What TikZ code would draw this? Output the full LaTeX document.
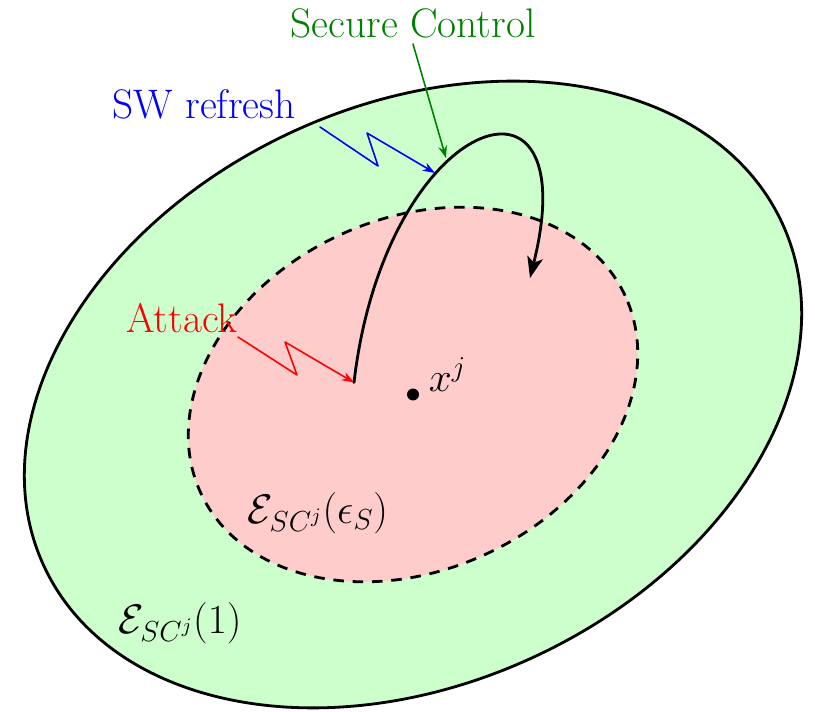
\RequirePackage{fix-cm}
\documentclass[tikz,border=0pt]{standalone}
\usepackage{fontspec}
\usepackage{amsmath}
\usepackage{tikz}
\usetikzlibrary{calc,arrows.meta}

\begin{document}
\begin{tikzpicture}[>=Stealth, line cap=round, line join=round,
  font=\fontsize{23.5}{28}\selectfont,
  setline/.style={line width=1.6pt},
  bolt/.style={->, line width=0.9pt, >={Stealth[length=7pt,width=5pt]}}]

  \useasboundingbox (0,0) rectangle (16.3,14.22);

  % ===== Parameters =====
  \coordinate (C) at (8.26,6.33);
  \def\tilt{25}

  % ===== Ellipsoidal sets =====
  \draw[setline, fill=green!20, rotate around={\tilt:(C)}]
  (C) ellipse [x radius=8.14, y radius=5.78];

  \draw[setline, line cap=butt, dash pattern=on 6pt off 5pt, fill=red!20, rotate around={\tilt:(C)}]
  (C) ellipse [x radius=4.68, y radius=3.51];

  % ===== Equilibrium =====
  \fill (C) circle (0.12);
  \node (xj) at (8.95,6.72) {$x^{j}$};

  % ===== Labels =====
  \node (outerlbl) at (3.6,1.76) {$\mathcal{E}_{SC^{j}}(1)$};
  \node (innerlbl) at (6.36,3.96) {$\mathcal{E}_{SC^{j}}(\epsilon_{S})$};
  \node[green!50!black] (secure) at (8.26,13.76) {Secure Control};
  \node[blue] (swref) at (4.08,12.14) {SW refresh};
  \node[red] (attack) at (3.64,7.86) {Attack};

  % ===== Trajectory =====
  \coordinate (hit) at (7.08,6.57);
  \coordinate (land) at (10.60,8.66);
  \draw[setline, ->, >={Stealth[length=12pt,width=9pt,inset=3pt]}]
  (hit) .. controls (7.70,11.92) and (11.76,13.32) .. (land);

  % ===== Attack bolt =====
  \coordinate (atA) at (4.76,7.48);
  \coordinate (atC) at (5.94,6.72);
  \coordinate (atB) at (5.70,7.38);
  \draw[bolt, red] (atA) -- (atC) -- (atB) -- (hit);

  % ===== Refresh bolt =====
  \coordinate (swA) at (6.40,11.68);
  \coordinate (swC) at (7.56,10.90);
  \coordinate (swB) at (7.34,11.56);
  \coordinate (swD) at (8.70,10.76);
  \draw[bolt, blue] (swA) -- (swC) -- (swB) -- (swD);

  % ===== Secure control pointer =====
  \coordinate (scTip) at (8.92,11.06);
  \draw[bolt, green!50!black] (secure.south) -- (scTip);

\end{tikzpicture}
\end{document}
